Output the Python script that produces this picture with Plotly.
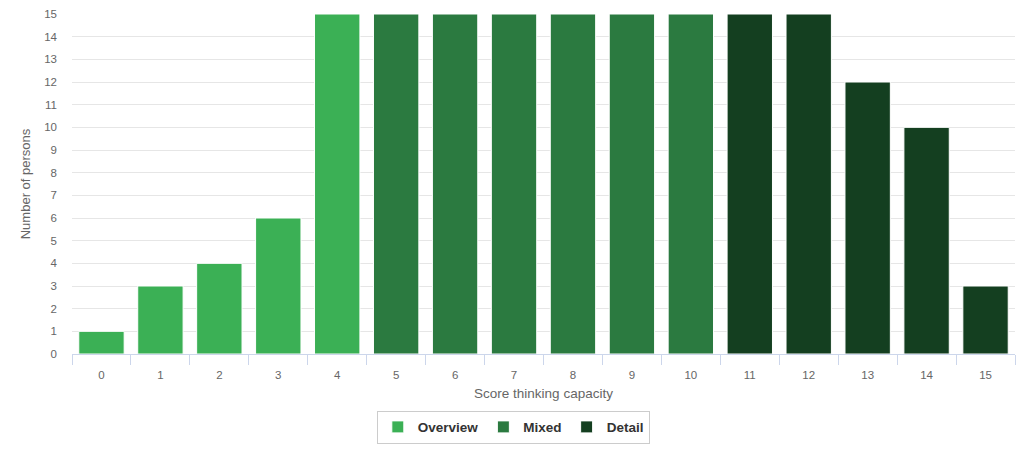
import plotly.graph_objects as go

categories = [str(i) for i in range(16)]
overview_x = ["0", "1", "2", "3", "4"]
overview_y = [1, 3, 4, 6, 15]
mixed_x = ["5", "6", "7", "8", "9", "10"]
mixed_y = [15, 15, 15, 15, 15, 15]
detail_x = ["11", "12", "13", "14", "15"]
detail_y = [15, 15, 12, 10, 3]

colors = {"Overview": "#3bb055", "Mixed": "#2b7a40", "Detail": "#143f20"}

fig = go.Figure()
for name, xs, ys in [("Overview", overview_x, overview_y),
                     ("Mixed", mixed_x, mixed_y),
                     ("Detail", detail_x, detail_y)]:
    fig.add_trace(go.Bar(x=xs, y=ys, name=name,
                         marker=dict(color=colors[name], line=dict(color="#ffffff", width=1))))

font_family = "Liberation Sans, Arial, sans-serif"
fig.update_layout(
    width=1024, height=450,
    margin=dict(l=72, r=9, t=14, b=96, autoexpand=False),
    barmode="overlay",
    bargap=0.23,
    plot_bgcolor="#ffffff", paper_bgcolor="#ffffff",
    font=dict(family=font_family, size=11, color="#666666"),
    xaxis=dict(
        type="category", categoryorder="array", categoryarray=categories,
        range=[-0.5, 15.5],
        showline=True, linecolor="#ccd6eb", linewidth=1,
        ticks="outside", tickson="boundaries", ticklen=10, tickcolor="#ccd6eb",
        showgrid=False,
        tickfont=dict(size=11.5, color="#666666"),
        ticklabelstandoff=10,
        title=dict(text="Score thinking capacity", font=dict(size=13.5, color="#666666"), standoff=8),
    ),
    yaxis=dict(
        range=[0, 15], dtick=1, tick0=0,
        showgrid=True, gridcolor="#e6e6e6", gridwidth=1,
        zeroline=False, showline=False,
        tickfont=dict(size=11.5, color="#666666"),
        ticklabelstandoff=14,
        title=dict(text="Number of persons", font=dict(size=13, color="#666666"), standoff=10),
    ),
    legend=dict(
        orientation="h", x=0.468, xanchor="center", y=-0.215, yanchor="middle",
        bordercolor="#cccccc", borderwidth=1,
        font=dict(size=13.5, color="#333333", family=font_family, weight="bold"),
        itemwidth=30,
    ),
    showlegend=True,
)

fig.write_html("out.html")
